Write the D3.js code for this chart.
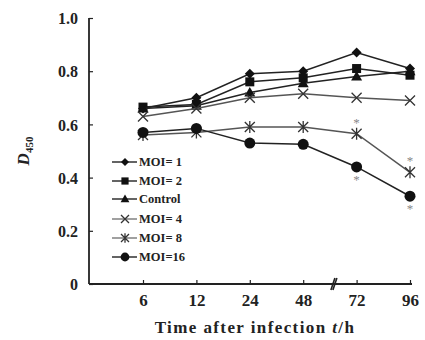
<!DOCTYPE html>
<html><head><meta charset="utf-8">
<script src="https://cdn.jsdelivr.net/npm/d3@7"></script>
<style>
html,body{margin:0;padding:0;background:#fff;}
text{font-family:"Liberation Serif","Times New Roman",serif;font-weight:bold;}
</style>
</head><body>
<svg id="chart" width="425" height="340"></svg>
<script>
const hours = ["6", "12", "24", "48", "72", "96"];
const yTicks = [0, 0.2, 0.4, 0.6, 0.8, 1.0];
const seriesNames = ["MOI= 1", "MOI= 2", "Control", "MOI= 4", "MOI= 8", "MOI=16"];
const moi1    = [0.66, 0.70, 0.79, 0.80, 0.87, 0.81];
const moi2    = [0.665, 0.675, 0.76, 0.775, 0.81, 0.785];
const control = [0.66, 0.67, 0.72, 0.755, 0.78, 0.80];
const moi4    = [0.63, 0.66, 0.70, 0.715, 0.70, 0.69];
const moi8    = [0.56, 0.57, 0.59, 0.59, 0.565, 0.42];
const moi16   = [0.57, 0.585, 0.53, 0.525, 0.44, 0.33];
// significance marks: [hour, series index, above(1)/below(-1)]
const sigHours  = ["72", "72", "96", "96"];
const sigSeries = [4, 5, 4, 5];
const sigSide   = [1, -1, 1, -1];

const seriesValues = [moi1, moi2, control, moi4, moi8, moi16];
const markers = ["diamond", "square", "triangle", "cross", "asterisk", "circle"];
const lineColors = ["#222", "#222", "#222", "#555", "#555", "#222"];

const svg = d3.select("#chart");
const x0 = 89, x1 = 412, yTop = 18, yBot = 284;
const x = d3.scalePoint().domain(hours).range([143, 410]);
const y = d3.scaleLinear().domain([0, 1]).range([yBot, yTop]);

// axes lines
svg.append("line").attr("x1", x0).attr("x2", x0).attr("y1", yTop).attr("y2", yBot)
  .attr("stroke", "#222").attr("stroke-width", 1.8);
svg.append("line").attr("x1", x0).attr("x2", x1).attr("y1", yBot).attr("y2", yBot)
  .attr("stroke", "#222").attr("stroke-width", 1.8);

// y ticks (inward)
const yAxis = d3.axisRight(y).tickValues(yTicks).tickSize(4).tickFormat(d => d === 0 ? "0" : d3.format(".1f")(d));
const gy = svg.append("g").attr("transform", `translate(${x0},0)`).call(yAxis);
gy.select(".domain").remove();
gy.selectAll(".tick line").attr("stroke", "#222").attr("stroke-width", 1.2);
gy.selectAll(".tick text").attr("x", -11).attr("text-anchor", "end")
  .style("font-size", "16px").attr("dy", "0.35em").style("fill", "#222");

// x ticks (inward)
const xAxis = d3.axisTop(x).tickSize(4);
const gx = svg.append("g").attr("transform", `translate(0,${yBot})`).call(xAxis);
gx.select(".domain").remove();
gx.selectAll(".tick line").attr("stroke", "#222").attr("stroke-width", 1.2);
gx.selectAll(".tick text").attr("y", 22).attr("dy", 0).attr("text-anchor", "middle")
  .style("font-size", "17px").style("fill", "#222");

// axis break mark between 48 and 72
const bx = (x("48") + x("72")) / 2 + 4;
svg.append("path")
  .attr("d", `M${bx - 3},${yBot + 6} L${bx + 1},${yBot - 6} M${bx - 1},${yBot + 6} L${bx + 3},${yBot - 6}`)
  .attr("stroke", "#222").attr("stroke-width", 1.6);

// markers
function drawMarker(g, type, cx, cy, s) {
  s = s || 1;
  if (type === "diamond") {
    g.append("path").attr("d", `M${cx},${cy - 5 * s} L${cx + 5 * s},${cy} L${cx},${cy + 5 * s} L${cx - 5 * s},${cy}Z`).attr("fill", "#111");
  } else if (type === "square") {
    g.append("rect").attr("x", cx - 4.5 * s).attr("y", cy - 4.5 * s).attr("width", 9 * s).attr("height", 9 * s).attr("fill", "#111");
  } else if (type === "triangle") {
    g.append("path").attr("d", `M${cx},${cy - 5.5 * s} L${cx + 5.5 * s},${cy + 4 * s} L${cx - 5.5 * s},${cy + 4 * s}Z`).attr("fill", "#111");
  } else if (type === "cross") {
    g.append("path").attr("d", `M${cx - 5 * s},${cy - 5 * s} L${cx + 5 * s},${cy + 5 * s} M${cx - 5 * s},${cy + 5 * s} L${cx + 5 * s},${cy - 5 * s}`)
      .attr("stroke", "#333").attr("stroke-width", 1.3).attr("fill", "none");
  } else if (type === "asterisk") {
    g.append("path").attr("d", `M${cx - 5 * s},${cy - 5 * s} L${cx + 5 * s},${cy + 5 * s} M${cx - 5 * s},${cy + 5 * s} L${cx + 5 * s},${cy - 5 * s} M${cx},${cy - 6 * s} L${cx},${cy + 6 * s}`)
      .attr("stroke", "#333").attr("stroke-width", 1.3).attr("fill", "none");
  } else if (type === "circle") {
    g.append("circle").attr("cx", cx).attr("cy", cy).attr("r", 5.5 * s).attr("fill", "#111");
  }
}

const line = d3.line().x((d, i) => x(hours[i])).y(d => y(d));
seriesValues.forEach((vals, si) => {
  const g = svg.append("g");
  g.append("path").datum(vals).attr("d", line).attr("fill", "none")
    .attr("stroke", lineColors[si]).attr("stroke-width", 1.5);
  vals.forEach((v, i) => drawMarker(g, markers[si], x(hours[i]), y(v), 1));
});

// significance asterisks
sigHours.forEach((h, i) => {
  const v = seriesValues[sigSeries[i]][hours.indexOf(h)];
  const cy = y(v) - sigSide[i] * 12;
  svg.append("text").attr("x", x(h)).attr("y", cy + 5).attr("text-anchor", "middle")
    .style("font-size", "13px").style("font-weight", "normal").style("fill", "#888").text("*");
});

// legend
const legY = [162, 181, 199, 219, 238, 257];
seriesNames.forEach((name, i) => {
  const g = svg.append("g");
  g.append("line").attr("x1", 112).attr("x2", 137).attr("y1", legY[i]).attr("y2", legY[i])
    .attr("stroke", lineColors[i] === "#555" ? "#777" : "#222").attr("stroke-width", 1.4);
  drawMarker(g, markers[i], 125, legY[i], 0.8);
  g.append("text").attr("x", 139).attr("y", legY[i]).attr("dy", "0.35em")
    .style("font-size", "12.5px").style("fill", "#222").text(name);
});

// x title
const xt = svg.append("text").attr("x", 255).attr("y", 333).attr("text-anchor", "middle")
  .style("font-size", "17px").style("letter-spacing", "1.4px").style("fill", "#222");
xt.append("tspan").text("Time after infection ");
xt.append("tspan").style("font-style", "italic").text("t");
xt.append("tspan").text("/h");

// y title
const yt = svg.append("text").attr("transform", "translate(29,151) rotate(-90)").attr("text-anchor", "middle")
  .style("font-size", "17px").style("fill", "#222");
yt.append("tspan").style("font-style", "italic").text("D");
yt.append("tspan").attr("dy", 4).style("font-size", "11px").text("450");
</script>
</body></html>
